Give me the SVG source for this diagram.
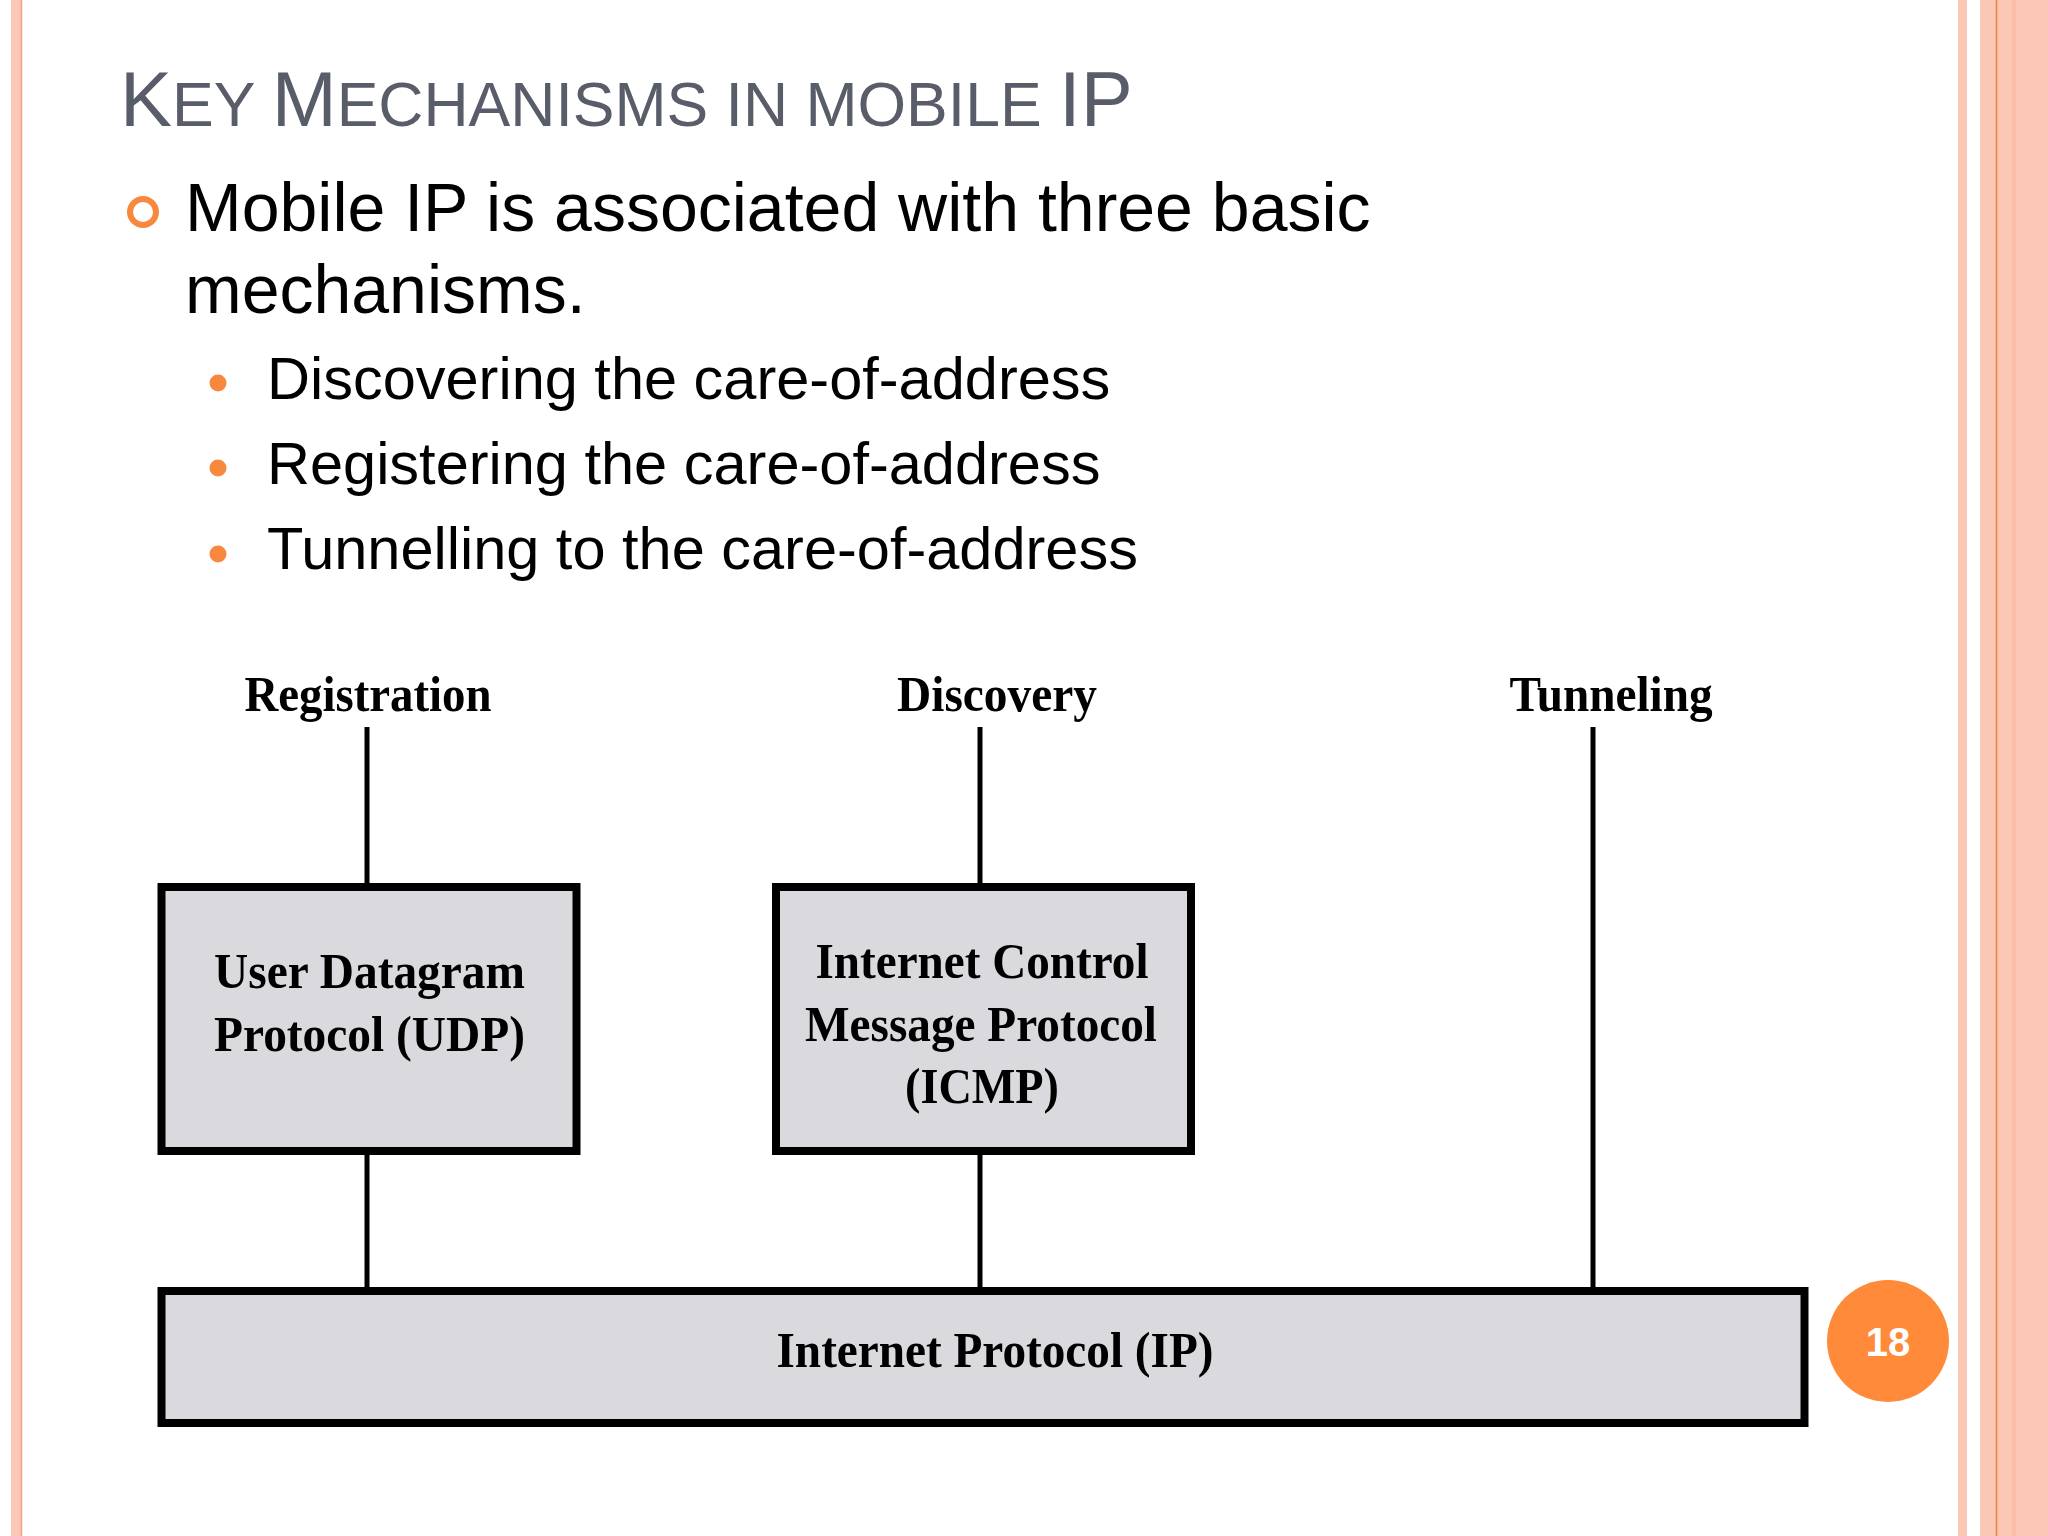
<svg xmlns="http://www.w3.org/2000/svg" width="2048" height="1536" viewBox="0 0 2048 1536">
<style>
.title{font-family:"Liberation Sans",Arial,sans-serif;fill:#585d69}
.body{font-family:"Liberation Sans",Arial,sans-serif;fill:#000}
.lbl{font-family:"Liberation Serif","Times New Roman",serif;font-weight:bold;font-size:50px;fill:#000;text-anchor:middle}
.box{fill:#dad9dd;stroke:#000;stroke-width:8}
.conn line{stroke:#000;stroke-width:5}
.dot{fill:#f7883d}
</style>
<rect width="2048" height="1536" fill="#fff"/>
<!-- left border -->
<rect x="11" y="0" width="11" height="1536" fill="#fcc9b8"/>
<line x1="21.5" y1="0" x2="21.5" y2="1536" stroke="#f3a184" stroke-width="1.5"/>
<!-- right border -->
<rect x="1958" y="0" width="9" height="1536" fill="#fcc8b6"/>
<rect x="1980" y="0" width="68" height="1536" fill="#fcc8b6"/>
<rect x="2012" y="0" width="4" height="1536" fill="#fabda8"/>
<line x1="1996.5" y1="0" x2="1996.5" y2="1536" stroke="#ef7f3d" stroke-width="1.5"/>

<g id="title">
<text class="title" x="120" y="126" font-size="78">K<tspan font-size="62.5">EY </tspan>M<tspan font-size="62.5">ECHANISMS IN MOBILE </tspan>IP</text>
</g>
<g id="bullets">
<circle cx="143" cy="212" r="13" fill="none" stroke="#f7883d" stroke-width="6"/>
<text class="body" x="185" y="231" font-size="68">Mobile IP is associated with three basic</text>
<text class="body" x="185" y="313" font-size="68">mechanisms.</text>
<circle class="dot" cx="218" cy="383" r="8.5"/>
<text class="body" x="267" y="399" font-size="59.5">Discovering the care-of-address</text>
<circle class="dot" cx="218" cy="468" r="8.5"/>
<text class="body" x="267" y="484" font-size="59.5">Registering the care-of-address</text>
<circle class="dot" cx="218" cy="554" r="8.5"/>
<text class="body" x="267" y="569" font-size="59.5">Tunnelling to the care-of-address</text>
</g>

<g id="connectors" class="conn">
<line x1="367" y1="727" x2="367" y2="885"/>
<line x1="367" y1="1153" x2="367" y2="1289"/>
<line x1="980" y1="727" x2="980" y2="885"/>
<line x1="980" y1="1153" x2="980" y2="1289"/>
<line x1="1593" y1="727" x2="1593" y2="1289"/>
</g>

<g id="label-registration"><text class="lbl" x="368" y="711" textLength="247" lengthAdjust="spacingAndGlyphs">Registration</text></g>
<g id="label-discovery"><text class="lbl" x="997" y="711" textLength="200" lengthAdjust="spacingAndGlyphs">Discovery</text></g>
<g id="label-tunneling"><text class="lbl" x="1611" y="711" textLength="203" lengthAdjust="spacingAndGlyphs">Tunneling</text></g>

<g id="udp">
<rect class="box" x="161.5" y="887" width="415" height="264"/>
<text class="lbl" x="369.5" y="988" textLength="311" lengthAdjust="spacingAndGlyphs">User Datagram</text>
<text class="lbl" x="369.5" y="1051" textLength="311" lengthAdjust="spacingAndGlyphs">Protocol (UDP)</text>
</g>
<g id="icmp">
<rect class="box" x="776" y="887" width="415" height="264"/>
<text class="lbl" x="982" y="978" textLength="333" lengthAdjust="spacingAndGlyphs">Internet Control</text>
<text class="lbl" x="981" y="1041" textLength="352" lengthAdjust="spacingAndGlyphs">Message Protocol</text>
<text class="lbl" x="982" y="1103" textLength="154" lengthAdjust="spacingAndGlyphs">(ICMP)</text>
</g>
<g id="ip">
<rect class="box" x="161.5" y="1291" width="1643" height="132"/>
<text class="lbl" x="995" y="1367" textLength="437" lengthAdjust="spacingAndGlyphs">Internet Protocol (IP)</text>
</g>

<g id="page-number">
<circle cx="1888" cy="1341" r="61" fill="#fe8a3a"/>
<text x="1888" y="1356" font-family="Liberation Sans,Arial,sans-serif" font-weight="bold" font-size="40" fill="#fff" text-anchor="middle">18</text>
</g>
</svg>
